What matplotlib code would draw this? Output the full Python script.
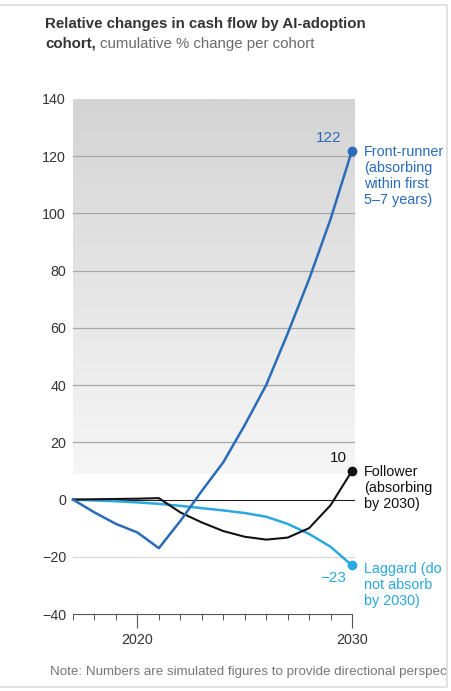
import numpy as np
import matplotlib
matplotlib.use("Agg")
import matplotlib.pyplot as plt
from matplotlib.colors import LinearSegmentedColormap

plt.rcParams["font.family"] = ["Liberation Sans", "DejaVu Sans"]

# ─── Données ──────────────────────────────────────────────────────────────────
YEARS        = [2017, 2018, 2019, 2020, 2021, 2022, 2023, 2024, 2025, 2026, 2027, 2028, 2029, 2030]
FRONT_RUNNER = [0, -4.5, -8.5, -11.5, -17, -7.5, 3, 13, 26, 40, 58, 77, 98, 122]
FOLLOWER     = [0, 0.1, 0.2, 0.3, 0.5, -4.5, -8, -11, -13, -14, -13.3, -10, -2, 10]
LAGGARD      = [0, -0.3, -0.6, -1, -1.5, -2.2, -3, -3.8, -4.7, -6, -8.5, -12, -16.5, -23]
YTICKS       = [-40, -20, 0, 20, 40, 60, 80, 100, 120, 140]
XLABELS      = [2020, 2030]

C_FRONT = "#2a6cb8"
C_LAG   = "#2aa8e0"
C_FOLL  = "#111111"
C_TXT   = "#333333"

W, H = 451, 691
fig = plt.figure(figsize=(W / 100, H / 100), dpi=100)

# axes en pixels : x 73→352, y 99(140)→614(-40)
x0, x1, ytop, ybot = 73, 352, 99, 614
ax = fig.add_axes([x0 / W, 1 - ybot / H, (x1 - x0) / W, (ybot - ytop) / H])
for s in ax.spines.values():
    s.set_visible(False)

# fond dégradé
grad = np.linspace(0, 1, 256).reshape(-1, 1)
cmap = LinearSegmentedColormap.from_list("g", ["#f6f6f6", "#d4d4d4"])
ax.imshow(grad, extent=[2017, 2030.1, 9, 140], origin="lower", cmap=cmap,
          aspect="auto", zorder=0, clip_on=False)
ax.set_xlim(2017, 2030)
ax.set_ylim(-40, 140)

for v in YTICKS:
    if v in (-40, 140):
        continue
    if v == 0:
        ax.plot([2017, 2030.1], [0, 0], color="#222222", lw=0.8, zorder=1, clip_on=False)
    else:
        col = "#d8d8d8" if v == -20 else "#a8a8a8"
        ax.plot([2017, 2030.1], [v, v], color=col, lw=0.9, zorder=1, clip_on=False)

# axe x
ax.plot([2017, 2030], [-40, -40], color="#555555", lw=0.8, clip_on=False)
ax.set_xticks(YEARS, minor=True)
ax.set_xticks(XLABELS)
ax.set_xticklabels([str(x) for x in XLABELS], fontsize=10.3, color=C_TXT)
ax.tick_params(axis="x", which="minor", length=4, width=0.7, color="#555555")
ax.tick_params(axis="x", which="major", length=10, width=0.8, color="#555555", pad=4)
ax.set_yticks(YTICKS)
ax.set_yticklabels([f"{v}".replace("-", "\u2212") for v in YTICKS], fontsize=10.3, color=C_TXT)
ax.tick_params(axis="y", length=0, pad=5)

# séries
ax.plot(YEARS, LAGGARD, color=C_LAG, lw=1.8, zorder=3, clip_on=False)
ax.plot(YEARS, FOLLOWER, color=C_FOLL, lw=1.5, zorder=4, clip_on=False)
ax.plot(YEARS, FRONT_RUNNER, color=C_FRONT, lw=1.8, zorder=5, clip_on=False)
ax.scatter([YEARS[-1]], [FRONT_RUNNER[-1]], s=36, color=C_FRONT, zorder=6, clip_on=False)
ax.scatter([YEARS[-1]], [FOLLOWER[-1]], s=36, color=C_FOLL, zorder=6, clip_on=False)
ax.scatter([YEARS[-1]], [LAGGARD[-1]], s=36, color=C_LAG, zorder=6, clip_on=False)

# valeurs finales
ax.annotate(f"{FRONT_RUNNER[-1]}", (YEARS[-1], FRONT_RUNNER[-1]), xytext=(-8, 4),
            textcoords="offset points", ha="right", va="bottom", fontsize=11, color=C_FRONT)
ax.annotate(f"{FOLLOWER[-1]}", (YEARS[-1], FOLLOWER[-1]), xytext=(-4, 4),
            textcoords="offset points", ha="right", va="bottom", fontsize=11, color=C_FOLL)
ax.annotate(f"{LAGGARD[-1]}".replace("-", "\u2212"), (YEARS[-1], LAGGARD[-1]), xytext=(-4, -4),
            textcoords="offset points", ha="right", va="top", fontsize=11, color=C_LAG)

# étiquettes de séries
lbl = dict(fontsize=10.4, va="top", ha="left", linespacing=1.18)
fig.text(364 / W, 1 - 145 / H, "Front-runner\n(absorbing\nwithin first\n5\u20137 years)", color=C_FRONT, **lbl)
fig.text(364 / W, 1 - 465 / H, "Follower\n(absorbing\nby 2030)", color=C_FOLL, **lbl)
fig.text(364 / W, 1 - 562 / H, "Laggard (do\nnot absorb\nby 2030)", color=C_LAG, **lbl)

# titre
fig.text(45 / W, 1 - 28 / H, "Relative changes in cash flow by AI-adoption",
         fontsize=10.8, fontweight="bold", color=C_TXT, va="baseline")
t = fig.text(45 / W, 1 - 48 / H, "cohort,", fontsize=10.8, fontweight="bold",
             color=C_TXT, va="baseline")
fig.canvas.draw()
bb = t.get_window_extent()
fig.text((bb.x1 + 4) / W, 1 - 48 / H, "cumulative % change per cohort",
         fontsize=10.8, color="#6a6a6a", va="baseline")

# note (tronquée comme dans l'original)
fig.text(50 / W, 1 - 675 / H,
         "Note: Numbers are simulated figures to provide directional perspec",
         fontsize=9.6, color="#777777", va="baseline")

# cadre
fig.add_artist(plt.Line2D([0, 447 / W, 447 / W, 0], [1 - 5 / H, 1 - 5 / H, 1 - 687 / H, 1 - 687 / H],
                          transform=fig.transFigure, color="#dddddd", lw=1.2))

fig.savefig("out.png", dpi=100)
